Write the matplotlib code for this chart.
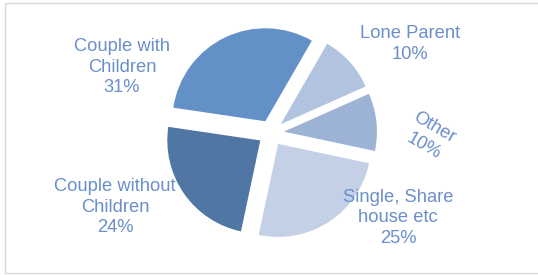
import matplotlib.pyplot as plt
from matplotlib.patches import Rectangle

categories = ["Lone Parent", "Other", "Single, Share\nhouse etc", "Couple without\nChildren", "Couple with\nChildren"]
shares = [10, 10, 25, 24, 31]
colors = ["#B1C3DE", "#9DB3D5", "#C3D0E6", "#5076A4", "#6391C7"]

W, H = 538, 275
# label centres in pixels (x, y from top) and rotation
label_pos = [(410, 44, 0), (429, 137, -30), (398, 218, 0), (115, 207, 0), (122, 67, 0)]

fig = plt.figure(figsize=(W / 100, H / 100), dpi=100)
fig.patch.set_facecolor("white")
fig.patches.append(Rectangle((5 / W, 2 / H), 1.0, 1 - 5 / H, transform=fig.transFigure,
                             fill=False, edgecolor="#D9D9D9", linewidth=1.0))

R = 93
cx, cy = 271, 133
ax = fig.add_axes([(cx - 1.5 * R) / W, (H - cy - 1.5 * R) / H, 3 * R / W, 3 * R / H])
ax.pie(shares, colors=colors, startangle=60, counterclock=False,
       explode=[0.14] * len(shares), wedgeprops=dict(linewidth=0))
ax.set_xlim(-1.5, 1.5)
ax.set_ylim(-1.5, 1.5)
ax.axis("off")

for name, val, (x, y, rot) in zip(categories, shares, label_pos):
    fig.text(x / W, 1 - y / H, f"{name}\n{val}%", ha="center", va="center", rotation=rot,
             fontsize=13.2, family="Liberation Sans", color="#6A8FC9", linespacing=1.28,
             rotation_mode="anchor", zorder=5)

fig.savefig("out.png", dpi=100, facecolor="white")
